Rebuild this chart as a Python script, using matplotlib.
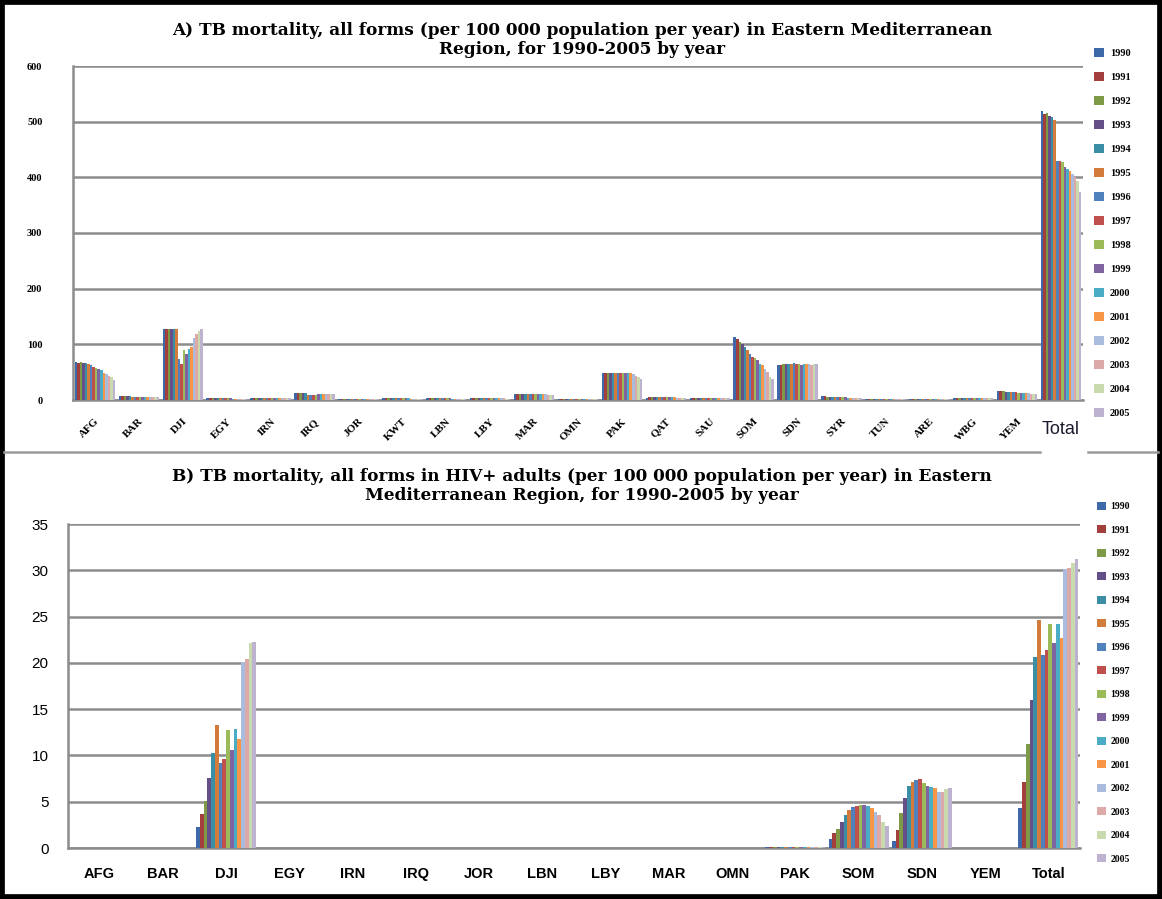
import numpy as np
import matplotlib
matplotlib.use("Agg")
import matplotlib.pyplot as plt
from matplotlib.patches import Rectangle
from matplotlib.lines import Line2D
from matplotlib.transforms import ScaledTranslation

years = [str(y) for y in range(1990, 2006)]
colors = ['#3E69A8', '#A23F3D', '#7F9A47', '#654F88', '#3A8FA6', '#D27B3A',
          '#4F81BD', '#C0504D', '#9BBB59', '#8064A2', '#4BACC6', '#F79646',
          '#A9BCDD', '#DDA9A8', '#C9DAAE', '#BDB2CF']

# Panel A: TB mortality, all forms
cats_a = ['AFG', 'BAR', 'DJI', 'EGY', 'IRN', 'IRQ', 'JOR', 'KWT', 'LBN', 'LBY', 'MAR',
          'OMN', 'PAK', 'QAT', 'SAU', 'SOM', 'SDN', 'SYR', 'TUN', 'ARE', 'WBG', 'YEM', 'Total']
afg_a = [68, 66, 68, 67, 66, 64, 62, 60, 58, 56, 53, 48, 46, 44, 42, 36]
bar_a = [7, 7, 7, 7, 7, 6, 6, 6, 6, 6, 5, 5, 5, 5, 5, 5]
dji_a = [128, 128, 128, 128, 128, 128, 73, 65, 90, 82, 92, 95, 112, 118, 124, 128]
egy_a = [3, 3, 3, 3, 3, 3, 3, 3, 3, 3, 2, 2, 2, 2, 2, 2]
irn_a = [4, 4, 4, 4, 4, 4, 4, 4, 4, 4, 3, 3, 3, 3, 3, 3]
irq_a = [12, 12, 12, 12, 12, 9, 9, 9, 9, 10, 10, 10, 10, 10, 10, 10]
jor_a = [1, 1, 1, 1, 1, 1, 1, 1, 1, 1, 1, 1, 1, 1, 1, 1]
kwt_a = [3, 3, 3, 3, 3, 3, 3, 3, 3, 3, 3, 2, 2, 2, 2, 2]
lbn_a = [3, 3, 3, 3, 3, 3, 3, 3, 3, 3, 2, 2, 2, 2, 2, 2]
lby_a = [3, 3, 3, 4, 4, 4, 3, 3, 3, 3, 3, 3, 3, 3, 2, 2]
mar_a = [11, 11, 11, 11, 11, 11, 11, 11, 10, 10, 10, 10, 10, 9, 9, 9]
omn_a = [2, 2, 2, 2, 2, 2, 2, 2, 1, 1, 1, 1, 1, 1, 1, 1]
pak_a = [48, 48, 48, 48, 48, 48, 48, 48, 48, 48, 48, 48, 46, 44, 42, 38]
qat_a = [4, 5, 5, 6, 6, 6, 6, 6, 6, 5, 5, 5, 4, 4, 4, 4]
sau_a = [4, 4, 4, 4, 4, 4, 4, 4, 4, 4, 4, 4, 4, 4, 4, 4]
som_a = [114, 110, 104, 100, 95, 89, 82, 78, 75, 71, 65, 62, 56, 50, 42, 38]
sdn_a = [62, 63, 64, 64, 65, 65, 66, 64, 64, 63, 64, 64, 64, 63, 64, 65]
syr_a = [7, 7, 6, 6, 6, 5, 5, 5, 5, 5, 4, 4, 4, 4, 4, 4]
tun_a = [2, 2, 2, 2, 2, 2, 2, 2, 2, 2, 2, 2, 2, 2, 2, 2]
are_a = [2, 2, 2, 2, 2, 2, 2, 2, 2, 2, 2, 2, 2, 2, 2, 2]
wbg_a = [4, 4, 4, 4, 4, 4, 4, 4, 4, 4, 4, 4, 4, 4, 4, 4]
yem_a = [16, 16, 16, 15, 15, 15, 14, 14, 13, 13, 13, 12, 12, 11, 11, 11]
tot_a = [519, 513, 515, 511, 509, 503, 430, 430, 427, 418, 415, 412, 406, 400, 394, 373]
vals_a = [afg_a, bar_a, dji_a, egy_a, irn_a, irq_a, jor_a, kwt_a, lbn_a, lby_a, mar_a,
          omn_a, pak_a, qat_a, sau_a, som_a, sdn_a, syr_a, tun_a, are_a, wbg_a, yem_a, tot_a]
yticks_a = [0, 100, 200, 300, 400, 500, 600]

# Panel B: TB mortality in HIV+ adults
cats_b = ['AFG', 'BAR', 'DJI', 'EGY', 'IRN', 'IRQ', 'JOR', 'LBN', 'LBY', 'MAR',
          'OMN', 'PAK', 'SOM', 'SDN', 'YEM', 'Total']
zero_b = [0] * 16
dji_b = [2.3, 3.7, 5.1, 7.6, 10.3, 13.3, 9.2, 9.6, 12.7, 10.6, 12.9, 11.8, 20.1, 20.4, 22.1, 22.2]
pak_b = [0.1, 0.1, 0.1, 0.1, 0.1, 0.1, 0.1, 0.1, 0.1, 0.1, 0.1, 0.1, 0.1, 0.1, 0.1, 0.1]
som_b = [0.95, 1.6, 2.1, 2.85, 3.6, 4.1, 4.4, 4.5, 4.6, 4.67, 4.56, 4.3, 3.9, 3.6, 2.85, 2.4]
sdn_b = [0.77, 1.9, 3.8, 5.4, 6.7, 7.15, 7.3, 7.4, 7.0, 6.75, 6.6, 6.5, 6.1, 6.1, 6.4, 6.5]
yem_b = [0.05] * 16
tot_b = [4.3, 7.1, 11.2, 16.0, 20.6, 24.6, 20.8, 21.4, 24.2, 22.1, 24.2, 22.7, 30.1, 30.3, 30.8, 31.2]
vals_b = [zero_b, zero_b, dji_b, zero_b, zero_b, zero_b, zero_b, zero_b, zero_b, zero_b,
          zero_b, pak_b, som_b, sdn_b, yem_b, tot_b]
yticks_b = [0, 5, 10, 15, 20, 25, 30, 35]

W, H = 1162, 899
fig = plt.figure(figsize=(W / 100, H / 100), dpi=100)


def rect(x0, y0, x1, y1):
    return [x0 / W, 1 - y1 / H, (x1 - x0) / W, (y1 - y0) / H]


def grouped(ax, cats, vals, group_w):
    n = len(years)
    bw = group_w / n
    x = np.arange(len(cats))
    data = np.array(vals)  # cats x years
    handles = []
    for j in range(n):
        h = ax.bar(x - group_w / 2 + bw * (j + 0.5), data[:, j], width=bw,
                   color=colors[j], edgecolor='none', label=years[j], zorder=3)
        handles.append(h)
    ax.set_xlim(-0.5, len(cats) - 0.5)
    ax.set_xticks(x)
    for s in ['top', 'right']:
        ax.spines[s].set_visible(False)
    for s in ['left', 'bottom']:
        ax.spines[s].set_color('#8c8c8c')
        ax.spines[s].set_linewidth(1.8)
    ax.yaxis.grid(True, color='#8c8c8c', linewidth=1.8, zorder=0)
    ax.tick_params(axis='both', length=0)
    return handles


# Panel A
axA = fig.add_axes(rect(73, 66, 1083, 400))
hA = grouped(axA, cats_a, vals_a, 0.92)
axA.set_ylim(0, 600)
axA.set_yticks(yticks_a)
axA.set_yticklabels([str(v) for v in yticks_a], fontsize=7.5, fontweight='bold',
                    family='Liberation Serif')
axA.tick_params(axis='y', pad=22)
axA.set_xticklabels(cats_a, rotation=45, ha='right', rotation_mode='anchor',
                    fontsize=8, fontweight='bold', family='Liberation Serif')
axA.tick_params(axis='x', pad=12)
tl = axA.get_xticklabels()[-1]
tl.set_rotation(0)
tl.set_ha('center')
tl.set_fontsize(13)
tl.set_fontweight('normal')
tl.set_family('Liberation Sans')
tl.set_color('#1a1a2e')
tl.set_transform(tl.get_transform() + ScaledTranslation(0, -4 / 100, fig.dpi_scale_trans))
axA.legend(handles=hA, loc='upper left', bbox_to_anchor=(1090 / W, 1 - 44 / H),
           bbox_transform=fig.transFigure, frameon=False,
           prop={'family': 'Liberation Serif', 'weight': 'bold', 'size': 7.5},
           handlelength=0.9, handleheight=0.9, handletextpad=0.6, labelspacing=1.35,
           borderaxespad=0)

# Panel B
axB = fig.add_axes(rect(68, 524, 1080, 848))
hB = grouped(axB, cats_b, vals_b, 0.95)
axB.set_ylim(0, 35)
axB.set_yticks(yticks_b)
axB.set_yticklabels([str(v) for v in yticks_b], fontsize=11, family='Liberation Sans')
axB.tick_params(axis='y', pad=14)
axB.set_xticklabels(cats_b, fontsize=10.5, fontweight='bold', family='Liberation Sans')
axB.tick_params(axis='x', pad=14)
axB.legend(handles=hB, loc='upper left', bbox_to_anchor=(1093 / W, 1 - 498 / H),
           bbox_transform=fig.transFigure, frameon=False,
           prop={'family': 'Liberation Serif', 'weight': 'bold', 'size': 7},
           handlelength=0.9, handleheight=0.9, handletextpad=0.5, labelspacing=1.45,
           borderaxespad=0)

# Titles
fig.text(582 / W, 1 - 40 / H,
         "A) TB mortality, all forms (per 100 000 population per year) in Eastern Mediterranean\n"
         "Region, for 1990-2005 by year",
         ha='center', va='center', fontsize=12.2, fontweight='bold',
         family='DejaVu Serif', linespacing=1.08)
fig.text(582 / W, 1 - 486 / H,
         "B) TB mortality, all forms in HIV+ adults (per 100 000 population per year) in Eastern\n"
         "Mediterranean Region, for 1990-2005 by year",
         ha='center', va='center', fontsize=12.2, fontweight='bold',
         family='DejaVu Serif', linespacing=1.08)

# Separator lines and frame
fig.add_artist(Line2D([4 / W, 1040 / W], [1 - 452 / H, 1 - 452 / H], color='#9a9a9a',
                      linewidth=1.8, transform=fig.transFigure))
fig.add_artist(Line2D([1088 / W, 1 - 4 / W], [1 - 452 / H, 1 - 452 / H], color='#9a9a9a',
                      linewidth=1.8, transform=fig.transFigure))
fig.add_artist(Rectangle((0, 0), 1, 1, transform=fig.transFigure, fill=False,
                         edgecolor='black', linewidth=7))

fig.savefig('out.png', dpi=100)
